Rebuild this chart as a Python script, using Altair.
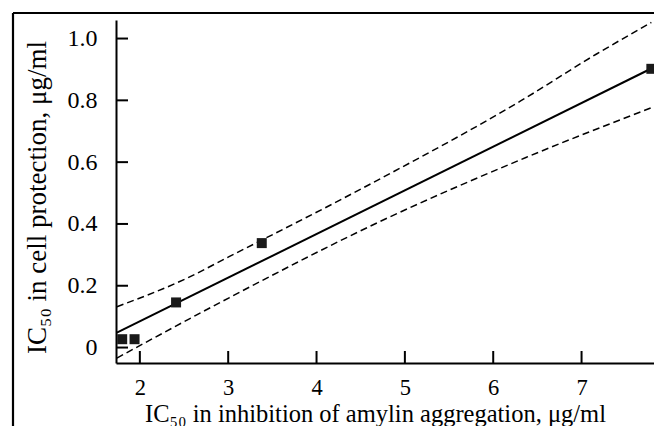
import altair as alt
import pandas as pd

# Measured points
points_x = [1.80, 1.94, 2.41, 3.38, 7.79]
points_y = [0.027, 0.027, 0.146, 0.338, 0.902]

# Regression line
fit_x = [1.74, 7.79]
fit_y = [0.048, 0.903]

# Confidence band (upper / lower dashed curves)
upper_x = [1.74, 2.53, 3.01, 4.27, 4.72, 6.31, 7.17, 7.79]
upper_y = [0.132, 0.224, 0.294, 0.478, 0.546, 0.798, 0.950, 1.052]
lower_x = [1.74, 3.01, 4.69, 6.37, 7.79]
lower_y = [-0.034, 0.161, 0.404, 0.615, 0.776]

x_ticks = [2, 3, 4, 5, 6, 7]
y_ticks = [0, 0.2, 0.4, 0.6, 0.8, 1.0]

x_title = "IC₅₀ in inhibition of amylin aggregation, μg/ml"
y_title = "IC₅₀ in cell protection, μg/ml"

W, H = 538, 343
BOTTOM = 63
FONT = "Liberation Serif"

xs = alt.Scale(domain=[1.73, 7.82], nice=False, zero=False)
ys = alt.Scale(domain=[-0.05, 1.06], nice=False, zero=False)

pts = pd.DataFrame({"x": points_x, "y": points_y})
fit = pd.DataFrame({"x": fit_x, "y": fit_y})
up = pd.DataFrame({"x": upper_x, "y": upper_y})
lo = pd.DataFrame({"x": lower_x, "y": lower_y})
xt = pd.DataFrame({"x": x_ticks})
yt = pd.DataFrame({"y": y_ticks})
one = pd.DataFrame({"k": [0]})

x_axis = alt.Axis(values=x_ticks, format="d", labelPadding=13,
                  labelFont=FONT, labelFontSize=22.5, labelColor="black",
                  domainColor="black", domainWidth=2, ticks=False, tickSize=0, grid=False,
                  title=x_title, titleFont=FONT, titleFontSize=24.5,
                  titleFontWeight="normal", titleColor="black",
                  titleX=259, titleY=58,
                  titleAlign="center", titleBaseline="alphabetic")
y_axis = alt.Axis(values=y_ticks,
                  labelExpr="datum.value == 0 ? '0' : format(datum.value, '.1f')",
                  labelPadding=19, labelFont=FONT, labelFontSize=24, labelColor="black",
                  domainColor="black", domainWidth=2, ticks=False, tickSize=0, grid=False,
                  title=y_title, titleFont=FONT, titleFontSize=27,
                  titleFontWeight="normal", titleColor="black",
                  titleX=-71, titleY=177,
                  titleAngle=270, titleAlign="center", titleBaseline="alphabetic")

X = alt.X("x:Q", scale=xs, axis=x_axis)
Y = alt.Y("y:Q", scale=ys, axis=y_axis)

base_pts = alt.Chart(pts).mark_square(size=100, color="#1a1a1a", opacity=1).encode(x=X, y=Y)

fit_line = alt.Chart(fit).mark_line(color="black", strokeWidth=2).encode(x=X, y=Y)

upper_line = alt.Chart(up).mark_line(color="black", strokeWidth=1.5,
                                     strokeDash=[7, 4], interpolate="monotone").encode(x=X, y=Y)
lower_line = alt.Chart(lo).mark_line(color="black", strokeWidth=1.5,
                                     strokeDash=[7, 4], interpolate="monotone").encode(x=X, y=Y)

xtick_rules = alt.Chart(xt).mark_rule(color="black", strokeWidth=2).encode(
    x=X, y=alt.value(H), y2=alt.value(H - 12))
ytick_rules = alt.Chart(yt).mark_rule(color="black", strokeWidth=2).encode(
    y=Y, x=alt.value(0), x2=alt.value(12))

border_top = alt.Chart(one).mark_rule(color="black", strokeWidth=2.2).encode(
    x=alt.value(-103), x2=alt.value(W), y=alt.value(-7))
border_left = alt.Chart(one).mark_rule(color="black", strokeWidth=2.2).encode(
    x=alt.value(-103), y=alt.value(-7), y2=alt.value(H + BOTTOM))

chart = alt.layer(
    upper_line, lower_line, fit_line, xtick_rules, ytick_rules,
    base_pts, border_top, border_left
).properties(
    width=W, height=H,
    autosize=alt.AutoSizeParams(type="none"),
    padding={"left": 108, "top": 12, "right": 0, "bottom": BOTTOM},
    background="white",
).configure_view(strokeWidth=0)

chart.save("out.html", embed_options={"renderer": "svg", "actions": False})
